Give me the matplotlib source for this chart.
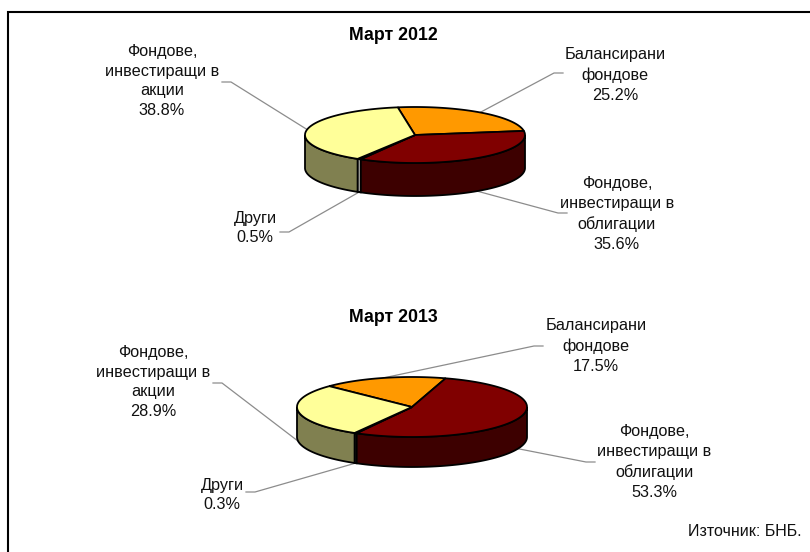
import numpy as np
import matplotlib
matplotlib.use('Agg')
import matplotlib.pyplot as plt
from matplotlib.patches import Polygon

plt.rcParams['font.family'] = ['Liberation Sans', 'DejaVu Sans']

# --- Data ---
categories = ['Балансирани\nфондове', 'Фондове,\nинвестиращи в\nоблигации', 'Други', 'Фондове,\nинвестиращи в\nакции']
values_2012 = [25.2, 35.6, 0.5, 38.8]
values_2013 = [17.5, 53.3, 0.3, 28.9]
source = 'Източник: БНБ.'

# --- Styles ---
top_colors = ['#FF9900', '#800000', '#F4F4EC', '#FFFF99']
side_colors = ['#804D00', '#3D0000', '#E8E8E0', '#808050']

# --- Layout, in image pixels: centre x, y, radius x, y, depth, start angle ---
pie_2012 = (415, 135, 110, 28, 33, -9)
pie_2013 = (412, 407, 115, 30, 30, -46)
labels_2012 = [(615, 75), (617, 214), (255, 228), (162, 81)]
labels_2013 = [(596, 346), (654, 462), (222, 495), (153, 382)]
ends_2012 = [(563, 73), (567, 213), (280, 232), (222, 82)]
ends_2013 = [(543, 346), (595, 462), (246, 492), (213, 383)]

fig = plt.figure(figsize=(8.1, 5.52), dpi=100)
ax = fig.add_axes([0, 0, 1, 1])
ax.set_xlim(0, 810)
ax.set_ylim(552, 0)
ax.axis('off')

# frame only shows on the top and left
ax.plot([810, 8, 8], [11.5, 11.5, 552], color='black', lw=1.5, zorder=0, solid_joinstyle='miter')


def rim(cx, cy, rx, ry, a0, a1, dy=0):
    t = np.radians(np.linspace(a0, a1, 80))
    return np.column_stack([cx + rx * np.sin(t), cy - ry * np.cos(t) + dy])


def draw_pie(values, layout, label_pos, line_ends):
    cx, cy, rx, ry, depth, start = layout
    edges = start + np.cumsum([0] + values) * 360 / sum(values)
    # leader lines go under the pie, with a short flat piece at the label
    for i in range(len(values)):
        mid = (edges[i] + edges[i + 1]) / 2
        front = 90 < (mid % 360) < 270
        p = rim(cx, cy, rx, ry, mid, mid, depth if front else 0)[0]
        ex, ey = line_ends[i]
        knee = ex - 9 * np.sign(ex - p[0])
        ax.plot([p[0], knee, ex], [p[1], ey, ey], color='#8C8C8C', lw=0.9, zorder=1)
    # visible side walls (front half of the ellipse only)
    for i in range(len(values)):
        a0 = max(edges[i], 90)
        a1 = min(edges[i + 1], 270)
        if a1 > a0:
            upper = rim(cx, cy, rx, ry, a0, a1)
            lower = rim(cx, cy, rx, ry, a1, a0, depth)
            ax.add_patch(Polygon(np.vstack([upper, lower]), fc=side_colors[i], ec='black', lw=1.3, zorder=2))
    # top face
    for i in range(len(values)):
        arc = rim(cx, cy, rx, ry, edges[i], edges[i + 1])
        ax.add_patch(Polygon(np.vstack([[cx, cy], arc]), fc=top_colors[i], ec='black', lw=1.3, zorder=3))
    for i in range(len(values)):
        ax.text(label_pos[i][0], label_pos[i][1], f'{categories[i]}\n{values[i]}%', ha='center', va='center',
                fontsize=11.7, linespacing=1.4, color='#111111', zorder=4)


draw_pie(values_2012, pie_2012, labels_2012, ends_2012)
draw_pie(values_2013, pie_2013, labels_2013, ends_2013)

ax.text(393, 35, 'Март 2012', ha='center', va='center', fontsize=12.8, fontweight='bold')
ax.text(393, 318, 'Март 2013', ha='center', va='center', fontsize=12.8, fontweight='bold')
ax.text(802, 532, source, ha='right', va='center', fontsize=11.5, color='#111111')

fig.savefig('out.png', dpi=100)
